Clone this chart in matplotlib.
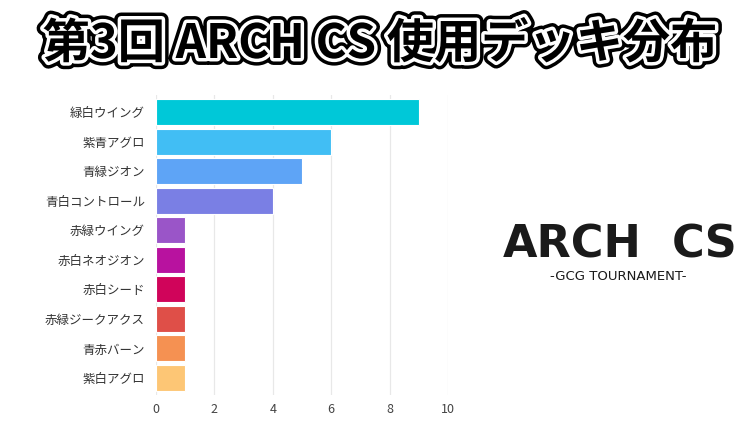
import matplotlib
matplotlib.use("Agg")
import matplotlib.pyplot as plt
import matplotlib.patheffects as pe

plt.rcParams["font.family"] = ["Noto Sans CJK JP", "DejaVu Sans"]

# Data
decks = [
    "緑白ウイング",
    "紫青アグロ",
    "青緑ジオン",
    "青白コントロール",
    "赤緑ウイング",
    "赤白ネオジオン",
    "赤白シード",
    "赤緑ジークアクス",
    "青赤バーン",
    "紫白アグロ",
]
counts = [9, 6, 5, 4, 1, 1, 1, 1, 1, 1]
colors = [
    "#00C8D8",
    "#41BEF4",
    "#5EA4F6",
    "#7A7FE4",
    "#9A55C8",
    "#B8129F",
    "#D0045A",
    "#DF4F48",
    "#F59152",
    "#FDC675",
]
xticks = [0, 2, 4, 6, 8, 10]

TITLE = "第3回 ARCH CS 使用デッキ分布"


def main():
    fig = plt.figure(figsize=(7.5, 4.22), dpi=100)
    fig.patch.set_facecolor("white")

    # Bar chart
    ax = fig.add_axes([156 / 750, 1 - 395 / 422, 292 / 750, 300 / 422])
    ypos = list(range(len(decks)))
    ax.barh(ypos, counts, height=0.88, color=colors, edgecolor="white",
            linewidth=0.8, zorder=2)
    ax.set_ylim(len(decks) - 0.425, -0.575)
    ax.set_xlim(0, 10)
    ax.set_yticks(ypos)
    ax.set_yticklabels(decks, fontsize=9, color="#333333")
    ax.set_xticks(xticks)
    ax.set_xticklabels([str(t) for t in xticks], fontsize=9, color="#444444")
    ax.tick_params(axis="both", length=0)
    ax.tick_params(axis="y", pad=8)
    ax.tick_params(axis="x", pad=6)
    for s in ax.spines.values():
        s.set_visible(False)
    ax.grid(axis="x", color="#E8E8E8", linewidth=0.9, zorder=0)
    ax.set_axisbelow(True)

    # Title with double outline
    fig.text(
        380 / 750, 1 - 44 / 422, TITLE,
        fontsize=34, fontweight="bold", color="black",
        ha="center", va="center",
        path_effects=[
            pe.Stroke(linewidth=10, foreground="black"),
            pe.Stroke(linewidth=5, foreground="white"),
            pe.Normal(),
        ],
    )

    # Logo
    fig.text(503 / 750, 1 - 258 / 422, "ARCH", fontsize=32, fontweight="bold",
             color="#1a1a1a", ha="left", va="baseline",
             family=["DejaVu Sans"])
    fig.text(737 / 750, 1 - 258 / 422, "CS", fontsize=32, fontweight="bold",
             color="#1a1a1a", ha="right", va="baseline",
             family=["DejaVu Sans"])
    fig.text(618 / 750, 1 - 277 / 422, "-GCG TOURNAMENT-", fontsize=9.5,
             color="#1a1a1a", ha="center", va="center",
             family=["DejaVu Sans"])

    fig.savefig("out.png", dpi=100, facecolor="white")
    plt.close(fig)


if __name__ == "__main__":
    main()
